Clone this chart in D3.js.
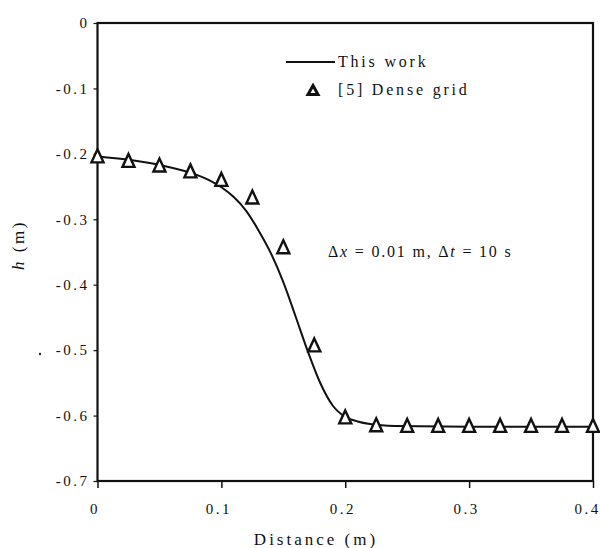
<!DOCTYPE html>
<html>
<head>
<meta charset="utf-8">
<script src="https://cdn.jsdelivr.net/npm/d3@7"></script>
<style>
  html, body { margin: 0; padding: 0; background: #fff; }
  svg text { font-family: "Liberation Serif", "Times New Roman", "DejaVu Serif", serif; fill: #111; }
</style>
</head>
<body>
<svg id="chart" width="600" height="548"></svg>
<script>
// ---- data ----
const lineX = [0, 0.025, 0.05, 0.075, 0.09, 0.1, 0.11, 0.12, 0.13, 0.14, 0.15, 0.16, 0.17, 0.18, 0.19, 0.2, 0.21, 0.22, 0.24, 0.3, 0.4];
const lineH = [-0.204, -0.209, -0.217, -0.229, -0.240, -0.251, -0.266, -0.287, -0.317, -0.352, -0.396, -0.449, -0.503, -0.551, -0.585, -0.602, -0.609, -0.613, -0.616, -0.617, -0.617];
const gridX = [0, 0.025, 0.05, 0.075, 0.1, 0.125, 0.15, 0.175, 0.2, 0.225, 0.25, 0.275, 0.3, 0.325, 0.35, 0.375, 0.4];
const gridH = [-0.205, -0.212, -0.219, -0.228, -0.241, -0.268, -0.344, -0.494, -0.604, -0.616, -0.617, -0.617, -0.617, -0.617, -0.617, -0.617, -0.617];
const xTicks = [0, 0.1, 0.2, 0.3, 0.4];
const yTicks = [0, -0.1, -0.2, -0.3, -0.4, -0.5, -0.6, -0.7];
const legendLabels = ["This work", "[5] Dense grid"];

// ---- layout ----
const W = 600, H = 548;
const m = { left: 97.5, right: 7, top: 23, bottom: 67 };
const svg = d3.select("#chart");
const x = d3.scaleLinear().domain([0, 0.4]).range([m.left, W - m.right]);
const y = d3.scaleLinear().domain([-0.7, 0]).range([H - m.bottom, m.top]);

const fmt = d => d === 0 ? "0" : d3.format(".1f")(d).replace("\u2212", "-");
const serif = '"Liberation Serif", "Times New Roman", "DejaVu Serif", serif';

// x axis
const xAxis = svg.append("g")
  .attr("transform", `translate(0,${y(-0.7)})`)
  .call(d3.axisBottom(x).tickValues(xTicks).tickFormat(fmt).tickSize(7).tickSizeOuter(0).tickPadding(26));
xAxis.select(".domain").remove();
xAxis.selectAll("line").attr("stroke", "#111").attr("stroke-width", 1.5);
xAxis.selectAll("text").attr("font-size", 15).attr("letter-spacing", "2.5px")
  .style("font-family", serif).attr("fill", "#111").attr("dy", 0)
  .attr("dx", d => d === 0.4 ? -6 : -3);

// y axis
const yAxis = svg.append("g")
  .attr("transform", `translate(${x(0)},0)`)
  .call(d3.axisLeft(y).tickValues(yTicks).tickFormat(fmt).tickSize(4).tickSizeOuter(0).tickPadding(4));
yAxis.select(".domain").remove();
yAxis.selectAll("line").attr("stroke", "#111").attr("stroke-width", 1.2);
yAxis.selectAll("text").attr("font-size", 15).attr("letter-spacing", "2.5px")
  .style("font-family", serif).attr("fill", "#111");

// frame
svg.append("rect")
  .attr("x", x(0)).attr("y", y(0))
  .attr("width", x(0.4) - x(0)).attr("height", y(-0.7) - y(0))
  .attr("fill", "none").attr("stroke", "#111").attr("stroke-width", 2.2);

// curve "This work"
const linePts = lineX.map((d, i) => [d, lineH[i]]);
svg.append("path")
  .datum(linePts)
  .attr("fill", "none").attr("stroke", "#111").attr("stroke-width", 2)
  .attr("d", d3.line().x(d => x(d[0])).y(d => y(d[1])).curve(d3.curveMonotoneX));

// triangles
function triPath(cx, cy, w, h) {
  return `M${cx},${cy - h * 0.6}L${cx + w / 2},${cy + h * 0.4}L${cx - w / 2},${cy + h * 0.4}Z`;
}
svg.append("g").selectAll("path")
  .data(gridX.map((d, i) => [d, gridH[i]]))
  .join("path")
  .attr("d", d => triPath(x(d[0]), y(d[1]), 12, 13))
  .attr("fill", "#fff").attr("stroke", "#111").attr("stroke-width", 2.4)
  .attr("stroke-linejoin", "miter");

// legend
svg.append("line").attr("x1", 286).attr("x2", 335).attr("y1", 62).attr("y2", 62)
  .attr("stroke", "#111").attr("stroke-width", 2.2);
svg.append("text").attr("x", 338).attr("y", 67).attr("font-size", 16).attr("letter-spacing", "2.8px")
  .style("font-family", serif).text(legendLabels[0]);
svg.append("path").attr("d", triPath(313, 91, 10, 9))
  .attr("fill", "#fff").attr("stroke", "#111").attr("stroke-width", 3);
svg.append("text").attr("x", 338).attr("y", 95).attr("font-size", 16).attr("letter-spacing", "2.8px")
  .style("font-family", serif).text(legendLabels[1]);

// annotation
const ann = svg.append("text").attr("x", 328).attr("y", 257).attr("font-size", 16)
  .attr("letter-spacing", "1.8px").style("font-family", serif);
ann.append("tspan").text("Δ");
ann.append("tspan").attr("font-style", "italic").text("x");
ann.append("tspan").text(" = 0.01 m, Δ");
ann.append("tspan").attr("font-style", "italic").text("t");
ann.append("tspan").text(" = 10 s");

// axis titles
svg.append("text").attr("x", 316).attr("y", 545).attr("text-anchor", "middle")
  .attr("font-size", 17).attr("letter-spacing", "3px").style("font-family", serif).text("Distance (m)");
const yl = svg.append("text").attr("transform", "translate(24,245) rotate(-90)")
  .attr("text-anchor", "middle").attr("font-size", 17).attr("letter-spacing", "2.5px").style("font-family", serif);
yl.append("tspan").attr("font-style", "italic").text("h");
yl.append("tspan").text(" (m)");

// small speck in the scan
svg.append("circle").attr("cx", 40).attr("cy", 354).attr("r", 1.2).attr("fill", "#222");
</script>
</body>
</html>
